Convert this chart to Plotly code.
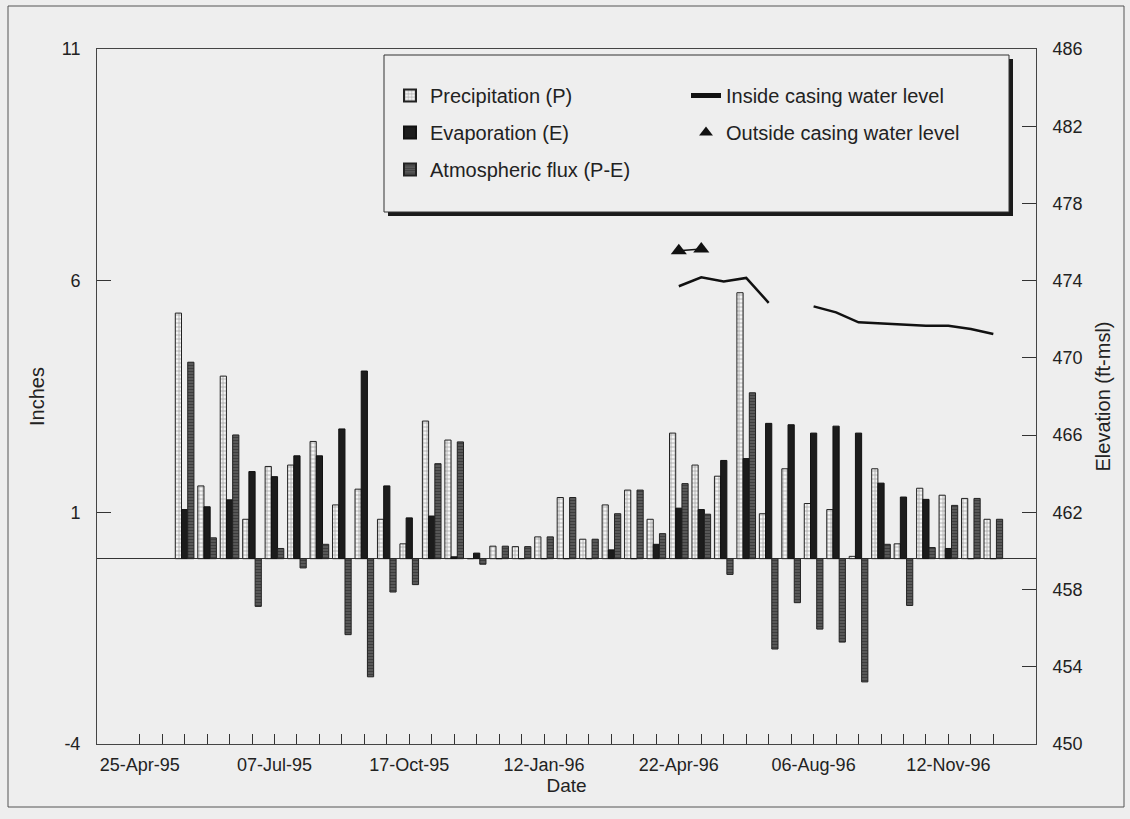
import plotly.graph_objects as go

# ---------------- data ----------------
# category positions (sampling dates) along the x axis, 0..38
tick_positions = list(range(39))
tick_labels = {0: "25-Apr-95", 6: "07-Jul-95", 12: "17-Oct-95", 18: "12-Jan-96",
               24: "22-Apr-96", 30: "06-Aug-96", 36: "12-Nov-96"}

inch_ticks = [-4, 1, 6, 11]
inch_tick_text = ["-4", "1", "6", "11"]

# bars exist from position 2 to 38
bar_pos = list(range(2, 39))
precip = [5.30, 1.57, 3.94, 0.85, 1.99, 2.02, 2.53, 1.16, 1.50, 0.85, 0.32, 2.97, 2.56, 0.00,
          0.27, 0.26, 0.47, 1.32, 0.42, 1.16, 1.48, 0.85, 2.71, 2.02, 1.78, 5.74, 0.97, 1.94,
          1.19, 1.06, 0.05, 1.94, 0.32, 1.52, 1.37, 1.30, 0.85]
evap = [1.06, 1.12, 1.27, 1.88, 1.77, 2.22, 2.22, 2.80, 4.05, 1.57, 0.88, 0.92, 0.04, 0.12,
        0.00, 0.00, 0.00, 0.00, 0.00, 0.19, 0.00, 0.31, 1.09, 1.06, 2.12, 2.16, 2.92, 2.89,
        2.71, 2.86, 2.71, 1.63, 1.33, 1.28, 0.22, 0.00, 0.00]
flux = [4.24, 0.45, 2.67, -1.03, 0.22, -0.20, 0.31, -1.64, -2.55, -0.72, -0.56, 2.05, 2.52, -0.12,
        0.27, 0.26, 0.47, 1.32, 0.42, 0.97, 1.48, 0.54, 1.62, 0.96, -0.34, 3.58, -1.95, -0.95,
        -1.52, -1.80, -2.66, 0.31, -1.01, 0.24, 1.15, 1.30, 0.85]

inside_pos = list(range(24, 39))
inside_elev = [473.71, 474.17, 473.96, 474.14, 472.85, None, 472.67, 472.36, 471.84, 471.79,
               471.72, 471.67, 471.67, 471.50, 471.24]

outside_pos = [24, 25]
outside_elev = [475.55, 475.64]

# ---------------- styling ----------------
BG = "#eeeeee"
FONT = "Liberation Sans, Arial, sans-serif"

L, R, T, B = 97, 94, 49, 75
W, H = 1130, 819
PW, PH = W - L - R, H - T - B


def px_x(px):
    return (px - L) / PW


def px_y(py):
    return (H - B - py) / PH


fig = go.Figure()

fig.add_trace(go.Bar(
    x=bar_pos, y=precip, name="Precipitation (P)", legend="legend", legendgroup="p",
    marker=dict(color="#f4f4f4", line=dict(color="#222222", width=1),
                pattern=dict(shape="+", fgcolor="#555555", bgcolor="#f4f4f4", size=4, solidity=0.35)),
))
fig.add_trace(go.Bar(
    x=bar_pos, y=evap, name="Evaporation (E)", legend="legend", legendgroup="e",
    marker=dict(color="#1c1c1c", line=dict(color="#111111", width=1)),
))
fig.add_trace(go.Bar(
    x=bar_pos, y=flux, name="Atmospheric flux (P-E)", legend="legend", legendgroup="f",
    marker=dict(color="#4a4a4a", line=dict(color="#222222", width=1),
                pattern=dict(shape="-", fgcolor="#1a1a1a", bgcolor="#606060", size=3, solidity=0.5)),
))

fig.add_trace(go.Scatter(
    x=inside_pos, y=inside_elev, yaxis="y2", mode="lines", name="Inside casing water level",
    legend="legend2", legendgroup="i",
    line=dict(color="#111111", width=2.5), connectgaps=False,
))
fig.add_trace(go.Scatter(
    x=outside_pos, y=outside_elev, yaxis="y2", mode="lines+markers",
    name="Outside casing water level", showlegend=False,
    line=dict(color="#111111", width=1.5),
    marker=dict(symbol="triangle-up", size=14, color="#111111"),
))
# legend-only entry for the triangles (marker without connecting line)
fig.add_trace(go.Scatter(
    x=[None], y=[None], yaxis="y2", mode="markers", name="Outside casing water level",
    legend="legend2", legendgroup="o",
    marker=dict(symbol="triangle-up", size=14, color="#111111"),
))

shapes = [
    # outer frame
    dict(type="rect", xref="paper", yref="paper", x0=px_x(8), x1=px_x(1124), y0=px_y(807), y1=px_y(6),
         line=dict(color="#555555", width=1), fillcolor="rgba(0,0,0,0)", layer="below"),
    # legend shadow
    dict(type="rect", xref="paper", yref="paper", x0=px_x(388), x1=px_x(1013), y0=px_y(216), y1=px_y(59),
         line=dict(width=0), fillcolor="#1a1a1a", layer="above"),
    # legend box
    dict(type="rect", xref="paper", yref="paper", x0=px_x(384), x1=px_x(1009), y0=px_y(212), y1=px_y(55),
         line=dict(color="#333333", width=1), fillcolor=BG, layer="above"),
]

fig.update_layout(
    width=W, height=H, autosize=False,
    margin=dict(l=L, r=R, t=T, b=B, pad=0),
    paper_bgcolor=BG, plot_bgcolor=BG,
    font=dict(family=FONT, size=18, color="#222222"),
    barmode="group", bargap=0.17, bargroupgap=0.0,
    shapes=shapes,
    xaxis=dict(
        range=[-1.9, 39.9], tickmode="array", tickvals=tick_positions,
        ticktext=[tick_labels.get(i, "") for i in tick_positions],
        ticks="inside", ticklen=10, tickcolor="#333333", tickwidth=1,
        showline=True, linecolor="#444444", linewidth=1, mirror=True,
        showgrid=False, zeroline=False,
        tickfont=dict(size=18), ticklabelstandoff=4,
        title=dict(text="Date", font=dict(size=19), standoff=2),
    ),
    yaxis=dict(
        range=[-4, 11], tickmode="array", tickvals=inch_ticks, ticktext=inch_tick_text,
        ticks="inside", ticklen=14, tickcolor="#333333",
        showline=True, linecolor="#444444", linewidth=1,
        showgrid=False, zeroline=True, zerolinecolor="#333333", zerolinewidth=1,
        tickfont=dict(size=18), ticklabelstandoff=12,
        title=dict(text="Inches", font=dict(size=20), standoff=11),
    ),
    yaxis2=dict(
        range=[450, 486], dtick=4, tick0=450, overlaying="y", side="right",
        ticks="inside", ticklen=14, tickcolor="#333333",
        showline=True, linecolor="#444444", linewidth=1,
        showgrid=False, zeroline=False,
        tickfont=dict(size=18), ticklabelstandoff=12,
        title=dict(text="Elevation (ft-msl)", font=dict(size=20), standoff=14),
    ),
    legend=dict(
        x=px_x(390), y=px_y(76), xanchor="left", yanchor="top",
        bgcolor="rgba(0,0,0,0)", borderwidth=0, font=dict(size=20),
        tracegroupgap=8, itemsizing="constant", orientation="v",
    ),
    legend2=dict(
        x=px_x(686), y=px_y(76), xanchor="left", yanchor="top",
        bgcolor="rgba(0,0,0,0)", borderwidth=0, font=dict(size=20),
        tracegroupgap=8, itemsizing="constant", orientation="v",
    ),
    showlegend=True,
)

fig.write_html("out.html", config={"displayModeBar": False},
               post_script="document.body.style.margin='0';")
